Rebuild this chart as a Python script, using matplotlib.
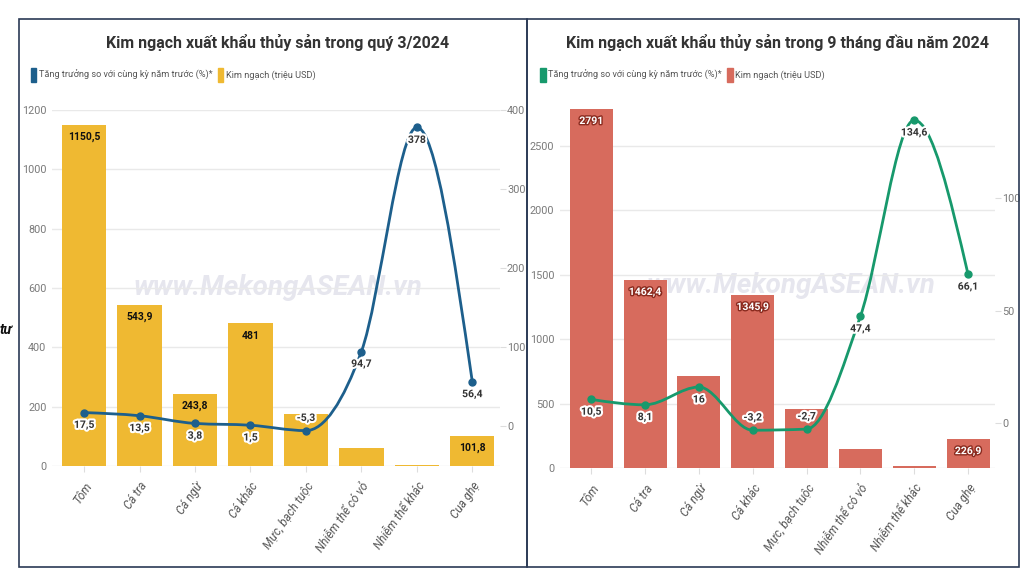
import numpy as np
import matplotlib
matplotlib.use("Agg")
import matplotlib.pyplot as plt
from matplotlib.path import Path
from matplotlib.patches import PathPatch, Rectangle
import matplotlib.patheffects as pe

plt.rcParams['font.family'] = ['Roboto', 'DejaVu Sans']

categories = ['Tôm', 'Cá tra', 'Cá ngừ', 'Cá khác', 'Mực, bạch tuộc',
              'Nhiễm thể có vỏ', 'Nhiễm thể khác', 'Cua ghẹ']

# Quý 3/2024
q3_value = [1150.5, 543.9, 243.8, 481, 174, 62, 3.5, 101.8]
q3_growth = [17.5, 13.5, 3.8, 1.5, -5.3, 94.7, 378, 56.4]
q3_show_bar_label = [True, True, True, True, False, False, False, True]

# 9 tháng đầu năm 2024
m9_value = [2791, 1462.4, 716, 1345.9, 462, 146, 12, 226.9]
m9_growth = [10.5, 8.1, 16, -3.2, -2.7, 47.4, 134.6, 66.1]
m9_show_bar_label = [True, True, False, True, False, False, False, True]

TICK_GRAY = '#7a7a7a'


def monotone_path(xs, ys):
    # cubic bezier path like d3.curveMonotoneX
    xs = np.asarray(xs, float)
    ys = np.asarray(ys, float)
    n = len(xs)
    h = np.diff(xs)
    s = np.diff(ys) / h
    t = np.zeros(n)
    for i in range(1, n - 1):
        p = (s[i - 1] * h[i] + s[i] * h[i - 1]) / (h[i - 1] + h[i])
        t[i] = (np.sign(s[i - 1]) + np.sign(s[i])) * min(abs(s[i - 1]), abs(s[i]), 0.5 * abs(p))
    t[0] = (3 * s[0] - t[1]) / 2
    t[-1] = (3 * s[-1] - t[-2]) / 2
    verts = [(xs[0], ys[0])]
    codes = [Path.MOVETO]
    for i in range(n - 1):
        dx = h[i] / 3
        verts += [(xs[i] + dx, ys[i] + dx * t[i]),
                  (xs[i + 1] - dx, ys[i + 1] - dx * t[i + 1]),
                  (xs[i + 1], ys[i + 1])]
        codes += [Path.CURVE4] * 3
    return Path(verts, codes)


def draw_panel(fig, rect, title, values, growth, show_lbl, bar_color, line_color,
               ylim, yticks, y2lim, y2ticks, bar_text, bar_stroke, legend_x, title_x):
    ax = fig.add_axes(rect)
    ax.patch.set_visible(False)
    x = np.arange(len(categories))
    ax.bar(x, values, width=0.8, color=bar_color, zorder=2)
    ax.set_ylim(*ylim)
    ax.set_yticks(yticks)
    ax.set_xlim(-0.58, len(categories) - 0.5)
    ax.set_xticks(x)
    ax.set_xticklabels(categories, rotation=55, ha='right', rotation_mode='anchor',
                       fontsize=8.5, style='italic', color='#555555')
    ax.tick_params(axis='x', length=4, color='#dddddd', pad=6)
    ax.tick_params(axis='y', length=0, labelsize=7.8, labelcolor=TICK_GRAY, pad=4)
    ax.grid(axis='y', color='#e9e9e9', lw=1, zorder=0)
    for sp in ax.spines.values():
        sp.set_visible(False)

    for xi, v, show in zip(x, values, show_lbl):
        if show:
            txt = ax.annotate(f'{v:g}'.replace('.', ','), (xi, v), xytext=(0, -9),
                              textcoords='offset points', ha='center', va='center',
                              fontsize=7.5, fontweight='bold', color=bar_text, zorder=5)
            if bar_stroke:
                txt.set_path_effects([pe.withStroke(linewidth=2, foreground=bar_stroke)])

    ax2 = ax.twinx()
    ax2.set_ylim(*y2lim)
    ax2.set_yticks(y2ticks)
    ax2.tick_params(axis='y', length=4, color='#dddddd', labelsize=7.8,
                    labelcolor=TICK_GRAY, pad=1)
    for sp in ax2.spines.values():
        sp.set_visible(False)
    ax2.add_patch(PathPatch(monotone_path(x, growth), fill=False, edgecolor=line_color,
                            lw=2.0, zorder=3))
    ax2.plot(x, growth, 'o', color=line_color, ms=5, zorder=4)
    for xi, g in zip(x, growth):
        off = 9 if g < 0 else -9
        ax2.annotate(f'{g:g}'.replace('.', ','), (xi, g), xytext=(0, off),
                     textcoords='offset points', ha='center', va='center',
                     fontsize=7.5, fontweight='bold', color='#333333', zorder=6,
                     path_effects=[pe.withStroke(linewidth=3, foreground='white')])

    fig.text(title_x, 0.927, title, ha='center', va='center', fontsize=11.5,
             fontweight='bold', color='#333333')
    # legend
    y_leg = 0.871
    fig.add_artist(Rectangle((legend_x, y_leg - 0.012), 0.0055, 0.024,
                             transform=fig.transFigure, color=line_color))
    t1 = fig.text(legend_x + 0.008, y_leg, 'Tăng trưởng so với cùng kỳ năm trước (%)*',
                  ha='left', va='center', fontsize=6.6, color='#555555')
    fig.canvas.draw()
    bb = t1.get_window_extent().transformed(fig.transFigure.inverted())
    x2 = bb.x1 + 0.005
    fig.add_artist(Rectangle((x2, y_leg - 0.012), 0.0055, 0.024,
                             transform=fig.transFigure, color=bar_color))
    fig.text(x2 + 0.008, y_leg, 'Kim ngạch (triệu USD)', ha='left', va='center',
             fontsize=6.6, color='#555555')
    return ax, ax2


fig = plt.figure(figsize=(10.23, 5.84), dpi=100)
fig.patch.set_facecolor('white')

# watermarks
fig.text(0.272, 0.507, 'www.MekongASEAN.vn', ha='center', va='center', fontsize=20,
         fontweight='bold', style='italic', color='#e6e6ee', zorder=-1)
fig.text(0.773, 0.511, 'www.MekongASEAN.vn', ha='center', va='center', fontsize=20,
         fontweight='bold', style='italic', color='#e6e6ee', zorder=-1)

draw_panel(fig, [0.0508, 0.2021, 0.438, 0.6095],
           'Kim ngạch xuất khẩu thủy sản trong quý 3/2024',
           q3_value, q3_growth, q3_show_bar_label, '#efb932', '#1d5f8c',
           (0, 1200), [0, 200, 400, 600, 800, 1000, 1200],
           (-50, 400), [0, 100, 200, 300, 400], '#111111', None, 0.030, 0.2717)

draw_panel(fig, [0.5474, 0.1986, 0.4252, 0.6156],
           'Kim ngạch xuất khẩu thủy sản trong 9 tháng đầu năm 2024',
           m9_value, m9_growth, m9_show_bar_label, '#d76b5d', '#17996c',
           (0, 2791), [0, 500, 1000, 1500, 2000, 2500],
           (-20, 139.8), [0, 50, 100], 'white', '#8a2a1e', 0.528, 0.7605)

# panel frames
for x0, w in [(0.0186, 0.4966), (0.5152, 0.4810)]:
    fig.add_artist(Rectangle((x0, 0.0291), w, 0.9384, transform=fig.transFigure,
                             fill=False, edgecolor='#2b3a55', lw=1.2))

fig.text(0.0, 0.435, 'tư', ha='left', va='center', fontsize=10, fontweight='bold',
         style='italic', color='#111111')

fig.savefig('out.png', dpi=100)
